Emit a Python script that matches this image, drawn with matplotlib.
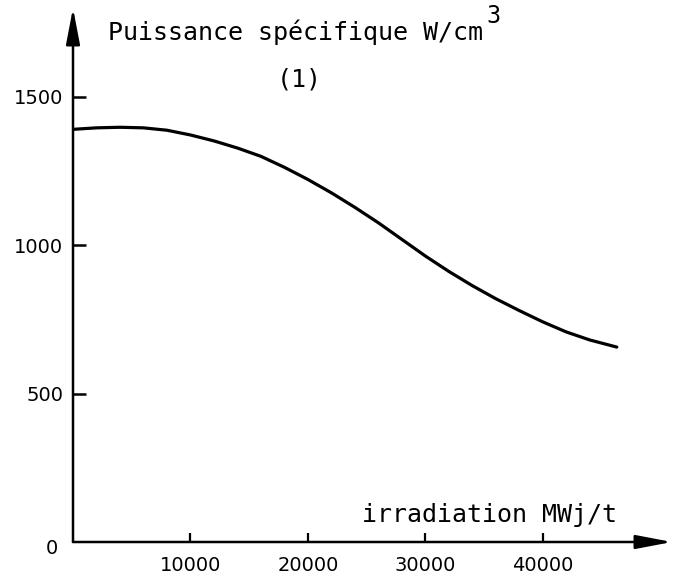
import matplotlib
matplotlib.use("Agg")
import matplotlib.pyplot as plt

# courbe (irradiation MWj/t, puissance W/cm3)
irradiation = [0, 2000, 4000, 6000, 8000, 10000, 12000, 14000, 16000, 18000,
               20000, 22000, 24000, 26000, 28000, 30000, 32000, 34000, 36000,
               38000, 40000, 42000, 44000, 46300]
puissance = [1391, 1396, 1398, 1396, 1388, 1372, 1352, 1328, 1300, 1263,
             1222, 1177, 1128, 1076, 1020, 964, 912, 864, 820,
             780, 742, 708, 681, 657]

xticks = [10000, 20000, 30000, 40000]
yticks = [500, 1000, 1500]

W, H = 675, 579
fig = plt.figure(figsize=(W / 100, H / 100), dpi=100)
# axes placed in pixels: origin (73, 542), arrow tips at x=672 and y=8
ax = fig.add_axes([73 / W, (H - 542) / H, (672 - 73) / W, (542 - 8) / H])

ax.plot(irradiation, puissance, color="black", lw=2.3,
        solid_capstyle="round", solid_joinstyle="round")
ax.set_xlim(0, 51000)
ax.set_ylim(0, 1800)

for s in ax.spines.values():
    s.set_visible(False)

# axes drawn as arrows
arrow = dict(arrowstyle="-|>,head_length=2.2,head_width=0.42", lw=1.8,
             color="black", mutation_scale=10, shrinkA=0, shrinkB=0)
ax.annotate("", xy=(0, 1), xytext=(0, 0), xycoords="axes fraction", arrowprops=arrow)
ax.annotate("", xy=(1, 0), xytext=(0, 0), xycoords="axes fraction", arrowprops=arrow)

ax.set_xticks(xticks)
ax.set_xticklabels([str(v) for v in xticks])
ax.set_yticks(yticks)
ax.set_yticklabels([str(v) for v in yticks])
ax.tick_params(axis="x", direction="in", length=6.5, width=1.6, pad=10, labelsize=14)
ax.tick_params(axis="y", direction="in", length=9.5, width=1.8, pad=7, labelsize=14)
ax.annotate("0", xy=(0, 0), xytext=(-15, -5), textcoords="offset points",
            ha="center", va="center", fontsize=14)

mono = "DejaVu Sans Mono"
fig.text(108 / W, 1 - 40 / H, "Puissance spécifique W/cm", family=mono,
         fontsize=18, ha="left", va="baseline")
fig.text(486 / W, 1 - 23 / H, "3", family=mono, fontsize=17,
         ha="left", va="baseline")
fig.text(299 / W, 1 - 86 / H, "(1)", family=mono, fontsize=18,
         ha="center", va="baseline")
fig.text(362 / W, 1 - 522 / H, "irradiation MWj/t", family=mono,
         fontsize=18, ha="left", va="baseline")

fig.savefig("out.png", dpi=100)
